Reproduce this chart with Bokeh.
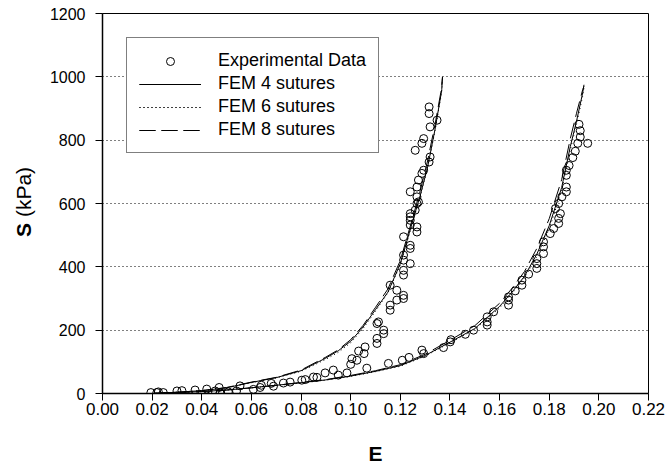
from math import pi
from bokeh.plotting import figure
from bokeh.models import (Range1d, FixedTicker, NumeralTickFormatter, Legend,
                          LegendItem, Label)
from bokeh.embed import file_html
from bokeh.resources import INLINE

# ---------------- data ----------------
exp_E = [0.0195, 0.0219, 0.0225, 0.0245, 0.030, 0.032, 0.0373, 0.042, 0.0454, 0.0474,
         0.0474, 0.047, 0.0507, 0.054, 0.0554, 0.0608, 0.0635, 0.064, 0.068, 0.0689,
         0.0729, 0.0756, 0.0803, 0.0817, 0.085, 0.0864, 0.0897, 0.093, 0.095, 0.0985,
         0.100, 0.1005, 0.1025, 0.1032, 0.1058, 0.1065,
         0.1054, 0.1106, 0.1106, 0.1133, 0.1133, 0.1106, 0.1112, 0.1152, 0.1159, 0.1159,
         0.1186, 0.1213, 0.1213, 0.1186, 0.1159, 0.1213, 0.1213, 0.124, 0.1213, 0.1213,
         0.124, 0.124, 0.1213, 0.1267, 0.1267, 0.124, 0.124, 0.124, 0.126, 0.1267,
         0.1273, 0.124, 0.1267, 0.124, 0.1267, 0.1273, 0.1287, 0.1294, 0.1316, 0.132,
         0.126, 0.1287, 0.1294, 0.132, 0.1348, 0.1316, 0.1316,
         0.1208, 0.1235, 0.1287, 0.1294, 0.1374, 0.1401, 0.1404, 0.1462, 0.1495, 0.155,
         0.155, 0.155, 0.1576, 0.1636, 0.1636, 0.1636, 0.1663, 0.169, 0.169, 0.1717,
         0.175, 0.175, 0.175, 0.1777, 0.1777, 0.1777, 0.1804, 0.1818, 0.1838, 0.1838,
         0.1845, 0.1825, 0.1838, 0.1851, 0.1869, 0.1869, 0.1869, 0.1869, 0.1880, 0.1895,
         0.1905, 0.1915, 0.1925, 0.1925, 0.1920, 0.1955]
exp_S = [3, 3, 5, 3, 8, 9, 11, 14, 8, 3,
         1, 19, 5, 8, 24, 13, 19, 26, 32, 23,
         33, 36, 42, 44, 52, 51, 65, 74, 58, 65,
         92, 110, 105, 134, 147, 80,
         126, 158, 174, 189, 200, 221, 226, 95, 263, 279,
         295, 300, 310, 326, 342, 374, 389, 410, 421, 437,
         458, 468, 495, 510, 526, 532, 547, 558, 579, 600,
         605, 568, 621, 637, 652, 674, 695, 705, 731, 747,
         768, 790, 805, 842, 863, 884, 905,
         105, 114, 137, 126, 145, 163, 170, 187, 200, 216,
         226, 242, 258, 279, 295, 305, 324, 342, 358, 377,
         395, 410, 426, 442, 463, 479, 505, 521, 537, 553,
         568, 584, 600, 621, 637, 652, 689, 705, 720, 745,
         765, 790, 810, 830, 850, 790]

# FEM curves, left (stiffer) and right branches
fem_EL = [0.020, 0.030, 0.040, 0.050, 0.060, 0.070, 0.080, 0.090, 0.095, 0.100,
          0.105, 0.110, 0.115, 0.120, 0.125, 0.128, 0.131, 0.134, 0.1363, 0.1367, 0.1370]
fem4_SL = [0, 4, 9, 18, 35, 50, 72, 112, 135, 165, 210, 265, 320, 410, 545, 625, 715, 835, 940, 960, 1000]
fem6_SL = [0, 4, 9, 18, 34, 49, 70, 108, 130, 160, 205, 260, 318, 405, 540, 620, 712, 830, 935, 955, 995]
fem8_SL = [0, 4, 9, 19, 36, 51, 74, 115, 138, 170, 215, 272, 330, 420, 555, 640, 735, 850, 950, 975, 1000]

fem_ER = [0.020, 0.030, 0.040, 0.050, 0.060, 0.070, 0.080, 0.090, 0.100, 0.110, 0.120, 0.130,
          0.140, 0.150, 0.160, 0.165, 0.170, 0.175, 0.180, 0.185, 0.1885, 0.191, 0.1935, 0.1940]
fem4_SR = [0, 3, 6, 11, 18, 26, 34, 43, 55, 70, 88, 120, 162, 205, 275, 320, 370, 440, 530, 650, 780, 860, 950, 975]
fem6_SR = [0, 3, 6, 11, 18, 25, 33, 42, 54, 69, 86, 118, 160, 202, 270, 315, 365, 432, 520, 640, 770, 850, 940, 965]
fem8_SR = [0, 3, 6, 11, 18, 26, 35, 44, 57, 72, 91, 124, 168, 214, 285, 332, 385, 458, 552, 675, 805, 885, 960, 970]

x_ticks = [0.00, 0.02, 0.04, 0.06, 0.08, 0.10, 0.12, 0.14, 0.16, 0.18, 0.20, 0.22]
y_ticks = [0, 200, 400, 600, 800, 1000, 1200]
grid_ticks = [200, 400, 600, 800, 1000]

FONT = "Liberation Sans"

p = figure(frame_width=546, frame_height=380,
           x_range=Range1d(0, 0.22), y_range=Range1d(0, 1200),
           output_backend="svg", toolbar_location=None,
           min_border_left=99, min_border_right=20,
           min_border_top=13, min_border_bottom=78)

p.background_fill_color = "white"
p.border_fill_color = "white"
p.outline_line_color = "black"
p.outline_line_width = 1

p.xgrid.visible = False
p.ygrid.ticker = FixedTicker(ticks=grid_ticks)
p.ygrid.grid_line_color = "black"
p.ygrid.grid_line_dash = "1 3"
p.ygrid.grid_line_width = 1

p.xaxis.ticker = FixedTicker(ticks=x_ticks)
p.xaxis.formatter = NumeralTickFormatter(format="0.00")
p.yaxis.ticker = FixedTicker(ticks=y_ticks)

for ax in (p.xaxis[0], p.yaxis[0]):
    ax.axis_line_color = "black"
    ax.axis_line_width = 1.5
    ax.major_tick_line_color = "black"
    ax.major_tick_in = 0
    ax.major_tick_out = 7
    ax.minor_tick_line_color = None
    ax.major_label_text_font = FONT
    ax.major_label_text_color = "black"

p.xaxis.major_label_text_font_size = "17px"
p.yaxis.major_label_text_font_size = "16px"
p.xaxis.major_label_standoff = 2
p.yaxis.major_label_standoff = 10

p.xaxis.axis_label = "E"
p.xaxis.axis_label_text_font = FONT
p.xaxis.axis_label_text_font_style = "bold"
p.xaxis.axis_label_text_font_size = "21px"
p.xaxis.axis_label_text_color = "black"
p.xaxis.axis_label_standoff = 24

# y axis label: bold "S" + regular "(kPa)", placed in the left side panel
p.add_layout(Label(x=-0.0320, y=494, text="S",
                   angle=pi / 2, text_align="left", text_baseline="middle",
                   text_font=FONT, text_font_style="bold", text_font_size="21px",
                   text_color="black"), "left")
p.add_layout(Label(x=-0.0320, y=557, text="(kPa)",
                   angle=pi / 2, text_align="left", text_baseline="middle",
                   text_font=FONT, text_font_size="21px", text_color="black"), "left")

r_exp = p.scatter(exp_E, exp_S, marker="circle", size=8, fill_color=None,
                  line_color="black", line_width=1)

r4a = p.line(fem_EL, fem4_SL, line_color="black", line_width=1)
r4b = p.line(fem_ER, fem4_SR, line_color="black", line_width=1)
r6a = p.line(fem_EL, fem6_SL, line_color="black", line_width=1, line_dash="1 3")
r6b = p.line(fem_ER, fem6_SR, line_color="black", line_width=1, line_dash="1 3")
r8a = p.line(fem_EL, fem8_SL, line_color="black", line_width=1, line_dash="16 6")
r8b = p.line(fem_ER, fem8_SR, line_color="black", line_width=1, line_dash="16 6")

legend = Legend(items=[
    LegendItem(label="Experimental Data", renderers=[r_exp]),
    LegendItem(label="FEM 4 sutures", renderers=[r4a, r4b]),
    LegendItem(label="FEM 6 sutures", renderers=[r6a, r6b]),
    LegendItem(label="FEM 8 sutures", renderers=[r8a, r8b]),
], location=(24, 240))
legend.border_line_color = "black"
legend.border_line_width = 1
legend.background_fill_color = "white"
legend.background_fill_alpha = 1
legend.padding = 12
legend.spacing = 2
legend.margin = 0
legend.label_height = 20
legend.glyph_height = 20
legend.glyph_width = 62
legend.label_standoff = 17
legend.label_text_font = FONT
legend.label_text_font_size = "18px"
legend.label_text_color = "black"
p.add_layout(legend)

open("out.html", "w").write(file_html(p, INLINE))
